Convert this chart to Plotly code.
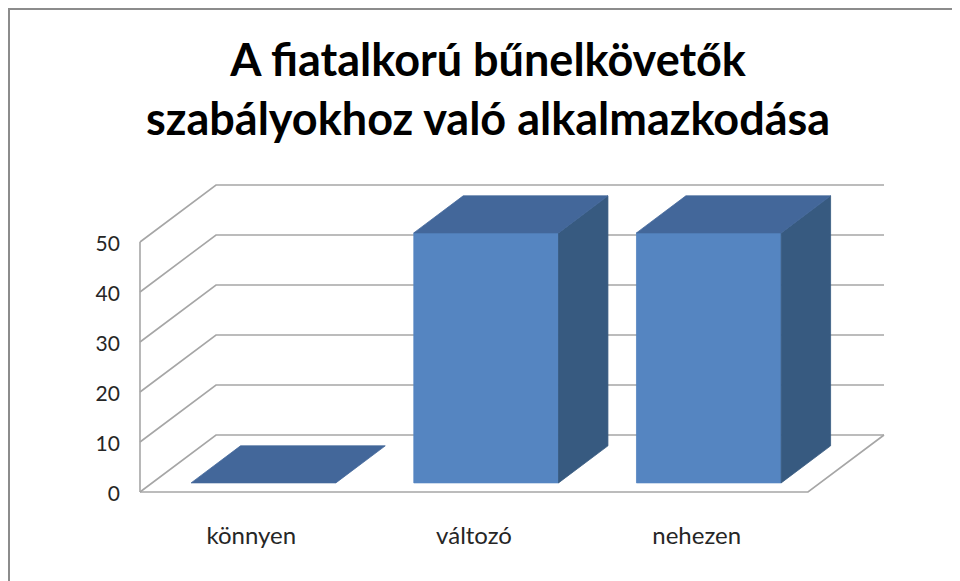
import plotly.graph_objects as go

# ---- data ----
categories = ["könnyen", "változó", "nehezen"]
values = [0, 50, 50]
tick_values = [0, 10, 20, 30, 40, 50]
tick_labels = ["0", "10", "20", "30", "40", "50"]
title_lines = ["A fiatalkorú bűnelkövetők", "szabályokhoz való alkalmazkodása"]

# ---- oblique projection settings (depth vector in data units) ----
DX = 0.3413     # depth shift along category axis
DY = 11.4       # depth shift along value axis
BAR_W = 0.65    # bar width (category units)
D0, D1 = 0.16, 0.81  # bar depth span (fraction of floor depth)

FRONT = "#5585C1"
TOP = "#43679A"
SIDE = "#375A80"
GRID = "#A6A6A6"
TEXT = "#262626"

N = len(categories)
YMAX = max(tick_values)


def P(x, y, d):
    return x + d * DX, y + d * DY


fig = go.Figure()


def line(pts, color=GRID, width=1.6):
    xs = [p[0] for p in pts]
    ys = [p[1] for p in pts]
    fig.add_trace(go.Scatter(x=xs, y=ys, mode="lines",
                             line=dict(color=color, width=width),
                             hoverinfo="skip", showlegend=False))


def poly(pts, color):
    xs = [p[0] for p in pts] + [pts[0][0]]
    ys = [p[1] for p in pts] + [pts[0][1]]
    fig.add_trace(go.Scatter(x=xs, y=ys, mode="lines", fill="toself",
                             fillcolor=color, line=dict(color=color, width=0.8),
                             hoverinfo="skip", showlegend=False))


# walls / grid
for v in tick_values:
    line([P(0, v, 0), P(0, v, 1), P(N, v, 1)])
# front value axis
line([P(0, 0, 0), P(0, YMAX, 0)])
# floor front and right edges
line([P(0, 0, 0), P(N, 0, 0), P(N, 0, 1)])

# bars
for i, v in enumerate(values):
    x0 = i + 0.5 - BAR_W / 2
    x1 = i + 0.5 + BAR_W / 2
    if v > 0:
        poly([P(x0, 0, D0), P(x1, 0, D0), P(x1, v, D0), P(x0, v, D0)], FRONT)
        poly([P(x1, 0, D0), P(x1, 0, D1), P(x1, v, D1), P(x1, v, D0)], SIDE)
    poly([P(x0, v, D0), P(x1, v, D0), P(x1, v, D1), P(x0, v, D1)], TOP)

# tick labels
fig.add_trace(go.Scatter(
    x=[-0.09] * len(tick_values), y=[t - 0.7 for t in tick_values], mode="text",
    text=tick_labels, textposition="middle left",
    textfont=dict(family="Lato", size=21, color=TEXT),
    hoverinfo="skip", showlegend=False))

# category labels
fig.add_trace(go.Scatter(
    x=[i + 0.5 for i in range(N)], y=[-9.2] * N, mode="text",
    text=categories, textposition="middle center",
    textfont=dict(family="Lato", size=24, color=TEXT),
    hoverinfo="skip", showlegend=False))

# figure is placed by the page 8px from the top-left corner
W, H = 952, 573
PX_PER_CAT = 222.67
PX_PER_VAL = 5.0
X0_PX, Y0_PX = 132, 484

fig.update_layout(
    width=W, height=H,
    margin=dict(l=0, r=0, t=0, b=0),
    paper_bgcolor="white", plot_bgcolor="white",
    xaxis=dict(visible=False, range=[-X0_PX / PX_PER_CAT, (W - X0_PX) / PX_PER_CAT], fixedrange=True),
    yaxis=dict(visible=False, range=[-(H - Y0_PX) / PX_PER_VAL, Y0_PX / PX_PER_VAL], fixedrange=True),
    annotations=[dict(text="<br>".join(title_lines), xref="paper", yref="paper",
                      x=479.5 / W, y=1 - 80 / H, xanchor="center", yanchor="middle",
                      showarrow=False, align="center",
                      font=dict(family="Lato", size=45, color="black", weight="bold"))],
    shapes=[dict(type="rect", xref="paper", yref="paper",
                 x0=1 / W, x1=1.05, y0=-0.05, y1=1 - 1 / H,
                 line=dict(color="#8C8C8C", width=2))],
    showlegend=False,
)

fig.write_html("out.html")
